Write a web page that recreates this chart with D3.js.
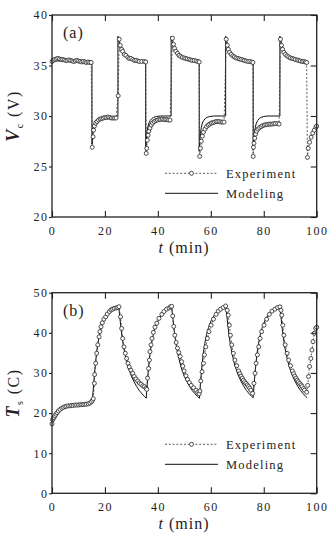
<!DOCTYPE html>
<html><head><meta charset="utf-8">
<script src="https://cdn.jsdelivr.net/npm/d3@7"></script>
<style>
html,body{margin:0;padding:0;background:#fff;}
svg{display:block;}
text{font-family:"Liberation Serif","Times New Roman",serif;fill:#222;}
</style></head>
<body>
<svg id="chart" width="328" height="534"></svg>
<script>
// ---------- tick labels ----------
const xTicks = [0, 20, 40, 60, 80, 100];
const vcTicks = [20, 25, 30, 35, 40];
const tsTicks = [0, 10, 20, 30, 40, 50];
const legendLabels = ["Experiment", "Modeling"];

// ---------- (a) Vc experiment [t (min), V] ----------
const vcExpInit = [[0,35.4],[0.5,35.5],[1,35.6],[1.6,35.65],[2.2,35.7],[2.8,35.65],[3.4,35.6],[4,35.6],[4.6,35.55],[5.2,35.5],[5.8,35.5],[6.4,35.55],[7,35.5],[7.6,35.45],[8.2,35.4],[8.8,35.45],[9.4,35.5],[10,35.45],[10.6,35.4],[11.2,35.35],[11.8,35.4],[12.4,35.35],[13,35.3],[13.6,35.35],[14.2,35.3],[14.8,35.3]];
const vcExpLow1 = [[15.2,26.9],[15.5,27.95],[15.7,28.6],[16.0,29.0],[16.5,29.3],[17.0,29.45],[17.6,29.6],[18.2,29.7],[18.8,29.75],[19.4,29.8],[20.0,29.85],[20.6,29.85],[21.2,29.9],[21.8,29.85],[22.4,29.8],[23.0,29.8],[23.6,29.8],[24.2,29.8],[25.0,32.0]];
const vcExpHigh1 = [[25.4,37.6],[25.8,37.0],[26.3,36.6],[26.7,36.4],[27.3,36.1],[27.9,36.0],[28.6,35.8],[29.2,35.7],[29.8,35.7],[30.5,35.6],[31.1,35.5],[31.7,35.5],[32.4,35.45],[33.0,35.4],[33.9,35.4],[34.9,35.4],[35.4,35.35]];
const vcExpLow2 = [[35.6,26.3],[35.8,26.8],[36.0,27.6],[36.3,28.1],[36.6,28.5],[37.0,28.8],[37.5,29.1],[38.0,29.3],[38.6,29.45],[39.2,29.55],[39.8,29.6],[40.4,29.65],[41.0,29.65],[41.6,29.7],[42.2,29.65],[42.8,29.65],[43.4,29.65],[44.0,29.6],[44.6,29.6]];
const vcExpHigh2 = [[45.5,37.7],[45.9,37.1],[46.3,36.7],[46.8,36.4],[47.4,36.2],[48.0,36.0],[48.6,35.9],[49.2,35.8],[49.9,35.75],[50.5,35.7],[51.1,35.65],[51.8,35.6],[52.4,35.55],[53.0,35.5],[53.7,35.5],[54.4,35.45],[55.1,35.4],[55.6,35.35]];
const vcExpLow3 = [[55.8,26.0],[56.1,26.8],[56.4,27.5],[56.8,28.0],[57.2,28.4],[57.8,28.7],[58.4,28.95],[59.0,29.1],[59.6,29.2],[60.2,29.3],[60.8,29.35],[61.4,29.4],[62.0,29.45],[62.6,29.45],[63.2,29.45],[63.8,29.4],[64.4,29.4],[65.0,29.4]];
const vcExpHigh3 = [[65.8,37.6],[66.2,37.0],[66.6,36.6],[67.1,36.3],[67.7,36.1],[68.3,35.95],[68.9,35.85],[69.5,35.75],[70.2,35.7],[70.8,35.65],[71.4,35.6],[72.1,35.55],[72.7,35.5],[73.3,35.45],[74.0,35.4],[74.7,35.4],[75.4,35.35],[75.9,35.3]];
const vcExpLow4 = [[76.0,26.0],[76.1,26.9],[76.3,27.3],[76.6,27.8],[76.9,28.2],[77.3,28.5],[77.8,28.7],[78.4,28.85],[79.0,28.95],[79.6,29.05],[80.2,29.1],[80.8,29.15],[81.4,29.15],[82.0,29.2],[82.6,29.2],[83.2,29.2],[83.8,29.25],[84.4,29.25],[85.2,29.25],[85.8,29.2]];
const vcExpHigh4 = [[86.3,37.6],[86.7,37.0],[87.1,36.6],[87.6,36.3],[88.2,36.1],[88.8,35.95],[89.4,35.85],[90.0,35.75],[90.7,35.7],[91.3,35.65],[91.9,35.6],[92.6,35.55],[93.2,35.5],[93.8,35.45],[94.5,35.4],[95.1,35.4],[95.7,35.35],[96.2,35.3]];
const vcExpLow5 = [[96.5,25.9],[96.8,26.8],[97.3,27.4],[97.9,27.9],[98.5,28.3],[99.1,28.6],[99.7,28.9],[100,29.0]];

// ---------- (a) Vc modeling ----------
const vcModInit = [[0,35.45],[15.1,35.45]];
const vcModLow1 = [[15.1,27.2],[15.3,27.9],[15.6,28.5],[15.9,28.9],[16.3,29.25],[16.8,29.5],[17.4,29.7],[18.1,29.8],[19.1,29.88],[20.5,29.92],[22.5,29.93],[24.9,29.93]];
const vcModHigh1 = [[24.9,37.9],[25.2,37.5],[25.6,37.1],[26.1,36.7],[26.7,36.4],[27.4,36.15],[28.2,35.95],[29.1,35.8],[30.1,35.68],[31.2,35.6],[32.4,35.52],[33.7,35.47],[35.4,35.42]];
const vcModLow2 = [[35.4,26.6],[35.6,27.6],[35.9,28.4],[36.2,28.9],[36.6,29.3],[37.1,29.55],[37.7,29.75],[38.4,29.87],[39.4,29.95],[40.9,30.0],[45.0,30.0]];
const vcModHigh2 = [[45.0,37.9],[45.3,37.5],[45.7,37.1],[46.2,36.7],[46.8,36.4],[47.5,36.15],[48.3,35.95],[49.2,35.8],[50.2,35.68],[51.3,35.6],[52.5,35.52],[53.8,35.47],[55.6,35.42]];
const vcModLow3 = [[55.6,26.5],[55.8,27.5],[56.1,28.3],[56.4,28.85],[56.8,29.3],[57.3,29.55],[57.9,29.75],[58.6,29.87],[59.6,29.95],[61.1,30.0],[65.6,30.0]];
const vcModHigh3 = [[65.6,37.9],[65.9,37.5],[66.3,37.1],[66.8,36.7],[67.4,36.4],[68.1,36.15],[68.9,35.95],[69.8,35.8],[70.8,35.68],[71.9,35.6],[73.1,35.52],[74.4,35.47],[76.0,35.42]];
const vcModLow4 = [[76.0,26.6],[76.2,27.6],[76.5,28.4],[76.8,28.9],[77.2,29.3],[77.7,29.55],[78.3,29.75],[79.0,29.87],[80.0,29.95],[81.5,30.0],[86.1,30.0]];
const vcModHigh4 = [[86.1,37.9],[86.4,37.5],[86.8,37.1],[87.3,36.7],[87.9,36.4],[88.6,36.15],[89.4,35.95],[90.3,35.8],[91.3,35.68],[92.4,35.6],[93.6,35.52],[94.9,35.47],[96.3,35.42]];

// ---------- (b) Ts experiment [t (min), C] ----------
const tsExpInit = [[0,17.3],[0.25,18.3],[0.5,18.7],[0.76,18.9],[1.1,19.3],[1.5,19.7],[1.9,20.1],[2.4,20.5],[3.0,20.9],[3.7,21.2],[4.3,21.4],[4.9,21.6],[5.5,21.7],[6.1,21.8],[6.8,21.8],[7.4,21.9],[8.0,21.9],[8.7,22.0],[9.3,22.0],[10.0,22.0],[10.6,22.1],[11.2,22.1],[11.8,22.1],[12.4,22.2],[13.0,22.2],[13.7,22.3],[14.3,22.5],[14.9,22.8]];
const tsExpRise1 = [[15.3,23.2],[15.6,23.6],[16.0,27.4],[16.1,29.6],[16.5,32.4],[16.9,34.9],[17.3,37.0],[17.8,39.0],[18.1,40.3],[18.5,41.5],[19.0,42.5],[19.6,43.4],[20.3,44.0],[20.9,44.7],[21.7,45.3],[22.3,45.7],[22.9,45.9],[23.5,46.1],[24.2,46.2],[24.8,46.3],[25.3,46.5]];
const tsExpFall1 = [[25.9,44.0],[26.3,41.1],[26.7,38.6],[27.2,36.5],[27.7,34.9],[28.2,33.6],[28.7,32.4],[29.2,31.5],[29.8,30.7],[30.5,29.9],[31.1,29.1],[31.7,28.5],[32.4,28.0],[33.0,27.5],[33.6,27.2],[34.3,26.8],[34.9,26.6],[35.5,26.2]];
const tsExpRise2 = [[35.8,25.9],[36.1,28.7],[36.5,31.1],[36.8,33.2],[37.0,35.3],[37.4,37.0],[37.8,38.6],[38.3,40.1],[38.9,41.4],[39.6,42.4],[40.4,43.6],[41.5,44.6],[42.3,45.3],[43.3,45.9],[44.2,46.2],[44.8,46.5],[45.2,46.6]];
const tsExpFall2 = [[45.6,44.2],[46.0,41.6],[46.4,39.4],[46.9,37.6],[47.4,36.2],[47.9,35.1],[48.4,34.1],[49.0,32.8],[49.4,31.7],[49.9,30.5],[50.6,29.3],[51.2,28.4],[51.9,27.6],[52.6,26.9],[53.5,26.3],[54.4,25.7],[55.1,25.2],[55.6,24.8]];
const tsExpRise3 = [[55.9,25.5],[56.2,28.0],[56.7,30.3],[57.2,32.4],[57.6,34.5],[58.1,36.5],[58.7,38.6],[59.3,40.3],[60.1,41.9],[61.0,43.4],[62.0,44.6],[62.8,45.4],[63.7,45.9],[64.7,46.3],[65.6,46.7]];
const tsExpFall3 = [[66.2,45.6],[66.6,44.4],[67.0,41.9],[67.4,39.4],[67.9,37.0],[68.5,34.9],[69.1,33.2],[69.8,31.8],[70.5,30.5],[71.0,29.8],[71.4,29.2],[71.9,28.7],[72.3,28.2],[72.8,27.8],[73.3,27.4],[73.8,27.0],[74.2,26.6],[74.7,26.2],[75.1,25.7],[75.8,24.9]];
const tsExpRise4 = [[76.3,27.4],[76.7,29.9],[77.1,32.4],[77.6,34.5],[78.1,36.5],[78.6,38.6],[79.2,40.3],[80.1,41.9],[81.1,43.4],[82.1,44.6],[83.1,45.4],[84.2,45.9],[85.2,46.3],[86.1,46.5]];
const tsExpFall4 = [[86.5,45.6],[86.8,44.4],[87.2,41.9],[87.6,39.4],[88.1,37.0],[88.8,34.9],[89.4,33.2],[90.1,31.8],[90.8,30.5],[91.3,29.8],[91.7,29.2],[92.2,28.7],[92.6,28.2],[93.1,27.8],[93.6,27.4],[94.1,27.0],[94.5,26.6],[95.0,26.1],[95.4,25.7],[96.2,25.2]];
const tsExpRise5 = [[96.6,26.9],[96.9,29.1],[97.3,31.6],[97.8,33.6],[98.2,35.7],[98.6,37.8],[99.1,39.9],[99.6,41.1],[100,41.4]];

// ---------- (b) Ts modeling ----------
const tsModInit = [[0,17.2],[0.3,18.2],[0.7,19.0],[1.2,19.7],[1.8,20.3],[2.6,20.8],[3.5,21.2],[4.6,21.5],[6,21.8],[8,22.0],[10,22.1],[12,22.2],[13.5,22.4],[14.5,22.6],[15.2,23.0]];
const tsModRise1 = [[15.6,26.0],[16.0,29.5],[16.5,33.0],[17.0,35.8],[17.6,38.3],[18.3,40.4],[19.0,42.0],[20.0,43.6],[21.0,44.7],[22.0,45.4],[23.0,45.9],[24.0,46.2],[25.2,46.5]];
const tsModFall1 = [[25.6,44.0],[26.0,41.5],[26.5,38.8],[27.0,36.6],[27.6,34.6],[28.3,32.6],[29.0,31.0],[30.0,29.2],[31.0,27.8],[32.0,26.6],[33.0,25.6],[34.0,24.8],[35.0,24.1],[35.6,23.7]];
const tsModRise2 = [[36.0,27.5],[36.5,31.5],[37.0,34.6],[37.6,37.3],[38.3,39.6],[39.0,41.3],[40.0,43.0],[41.0,44.2],[42.0,45.0],[43.0,45.6],[44.0,46.0],[45.2,46.4]];
const tsModFall2 = [[45.6,44.0],[46.0,41.5],[46.5,38.8],[47.0,36.6],[47.6,34.6],[48.3,32.6],[49.0,31.0],[50.0,29.2],[51.0,27.8],[52.0,26.6],[53.0,25.6],[54.0,24.8],[55.0,24.1],[55.7,23.7]];
const tsModRise3 = [[56.1,27.5],[56.6,31.5],[57.1,34.6],[57.7,37.3],[58.4,39.6],[59.1,41.3],[60.1,43.0],[61.1,44.2],[62.1,45.0],[63.1,45.6],[64.1,46.0],[65.7,46.5]];
const tsModFall3 = [[66.1,44.0],[66.5,41.5],[67.0,38.8],[67.5,36.6],[68.1,34.6],[68.8,32.6],[69.5,31.0],[70.5,29.2],[71.5,27.8],[72.5,26.6],[73.5,25.6],[74.5,24.8],[75.5,24.1],[76.0,23.8]];
const tsModRise4 = [[76.4,27.5],[76.9,31.5],[77.4,34.6],[78.0,37.3],[78.7,39.6],[79.4,41.3],[80.4,43.0],[81.4,44.2],[82.4,45.0],[83.4,45.6],[84.4,46.0],[86.1,46.5]];
const tsModFall4 = [[86.5,44.0],[86.9,41.5],[87.4,38.8],[87.9,36.6],[88.5,34.6],[89.2,32.6],[89.9,31.0],[90.9,29.2],[91.9,27.8],[92.9,26.6],[93.9,25.6],[94.9,24.8],[95.9,24.1],[96.4,23.8]];

const vcExp = [].concat(vcExpInit, vcExpLow1, vcExpHigh1, vcExpLow2, vcExpHigh2, vcExpLow3, vcExpHigh3, vcExpLow4, vcExpHigh4, vcExpLow5);
const vcMod = [].concat(vcModInit, vcModLow1, vcModHigh1, vcModLow2, vcModHigh2, vcModLow3, vcModHigh3, vcModLow4, vcModHigh4);
const tsExp = [].concat(tsExpInit, tsExpRise1, tsExpFall1, tsExpRise2, tsExpFall2, tsExpRise3, tsExpFall3, tsExpRise4, tsExpFall4, tsExpRise5);
const tsMod = [].concat(tsModInit, tsModRise1, tsModFall1, tsModRise2, tsModFall2, tsModRise3, tsModFall3, tsModRise4, tsModFall4);

const svg = d3.select("#chart");
const x = d3.scaleLinear().domain([0, 100]).range([52, 316.7]);

function drawPanel(cfg) {
  const y = d3.scaleLinear().domain(cfg.domain).range([cfg.bottom, cfg.top]);
  const g = svg.append("g");
  const line = d3.line().x(d => x(d[0])).y(d => y(d[1]));

  // model (solid)
  g.append("path").datum(cfg.mod).attr("d", line)
    .attr("fill", "none").attr("stroke", "#111").attr("stroke-width", 1);
  // experiment (dashed + circles)
  g.append("path").datum(cfg.exp).attr("d", line)
    .attr("fill", "none").attr("stroke", "#333").attr("stroke-width", 0.8)
    .attr("stroke-dasharray", "2,1.8");
  g.selectAll("circle.pt").data(cfg.exp).join("circle").attr("class", "pt")
    .attr("cx", d => x(d[0])).attr("cy", d => y(d[1])).attr("r", 2)
    .attr("fill", "#fff").attr("stroke", "#222").attr("stroke-width", 0.8);

  // axes
  const fontStyle = s => s.selectAll("text").attr("font-size", 12)
      .attr("letter-spacing", "1.5px").attr("fill", "#222")
      .attr("font-family", '"Liberation Serif","Times New Roman",serif');
  const ax = g.append("g").attr("transform", `translate(0,${cfg.bottom})`)
    .call(d3.axisBottom(x).tickValues(xTicks).tickSizeInner(-6).tickSizeOuter(0).tickPadding(9));
  fontStyle(ax);
  g.append("g").attr("transform", `translate(0,${cfg.top})`)
    .call(d3.axisTop(x).tickValues(xTicks).tickSizeInner(-6).tickSizeOuter(0).tickFormat(""));
  const ay = g.append("g").attr("transform", `translate(${x(0)},0)`)
    .call(d3.axisLeft(y).tickValues(cfg.ticks).tickSizeInner(3).tickSizeOuter(0).tickPadding(2));
  fontStyle(ay);
  ay.selectAll("text").attr("dx", "1.5px");
  g.append("g").attr("transform", `translate(${x(100)},0)`)
    .call(d3.axisRight(y).tickValues(cfg.ticks).tickSizeInner(-6).tickSizeOuter(0).tickFormat(""));
  g.selectAll(".domain").remove();
  g.selectAll(".tick line").attr("stroke", "#222").attr("stroke-width", 1.1);

  // frame
  g.append("rect").attr("x", x(0)).attr("y", cfg.top)
    .attr("width", x(100) - x(0)).attr("height", cfg.bottom - cfg.top)
    .attr("fill", "none").attr("stroke", "#222").attr("stroke-width", 1.3);

  // panel label
  g.append("text").attr("x", 63).attr("y", cfg.top + 23).attr("font-size", 16)
    .attr("letter-spacing", "1px").text(cfg.label);

  // x-axis title
  const xt = g.append("text").attr("x", 184).attr("y", cfg.bottom + 36)
    .attr("text-anchor", "middle").attr("font-size", 16).attr("letter-spacing", "1px");
  xt.append("tspan").attr("font-style", "italic").text("t");
  xt.append("tspan").text(" (min)");

  // y-axis title
  const cy = (cfg.top + cfg.bottom) / 2;
  const yt = g.append("text").attr("transform", `translate(19,${cy}) rotate(-90)`)
    .attr("text-anchor", "middle").attr("font-size", 16).attr("letter-spacing", "1.5px");
  yt.append("tspan").attr("font-style", "italic").attr("font-weight", "bold").attr("font-size", 18).text(cfg.ySym);
  yt.append("tspan").attr("font-size", 10).attr("dy", 4).text(cfg.ySub);
  yt.append("tspan").attr("dy", -4).text(" (" + cfg.yUnit + ")");

  // legend
  const lx0 = 165, lx1 = 218;
  const ly = [cfg.legendY, cfg.legendY + 20];
  g.append("line").attr("x1", lx0).attr("x2", lx1).attr("y1", ly[0]).attr("y2", ly[0])
    .attr("stroke", "#333").attr("stroke-width", 0.8).attr("stroke-dasharray", "2,1.8");
  g.append("circle").attr("cx", (lx0 + lx1) / 2).attr("cy", ly[0]).attr("r", 2)
    .attr("fill", "#fff").attr("stroke", "#222").attr("stroke-width", 0.8);
  g.append("line").attr("x1", lx0).attr("x2", lx1).attr("y1", ly[1]).attr("y2", ly[1])
    .attr("stroke", "#111").attr("stroke-width", 1);
  legendLabels.forEach((lab, i) => {
    g.append("text").attr("x", 226).attr("y", ly[i] + 4.5).attr("font-size", 12.5)
      .attr("letter-spacing", "1.2px").text(lab);
  });
}

drawPanel({domain: [20, 40], top: 15, bottom: 217, ticks: vcTicks, exp: vcExp, mod: vcMod,
  label: "(a)", ySym: "V", ySub: "c", yUnit: "V", legendY: 173.3});
drawPanel({domain: [0, 50], top: 292.7, bottom: 493.3, ticks: tsTicks, exp: tsExp, mod: tsMod,
  label: "(b)", ySym: "T", ySub: "s", yUnit: "C", legendY: 444.3});
</script>
</body></html>
